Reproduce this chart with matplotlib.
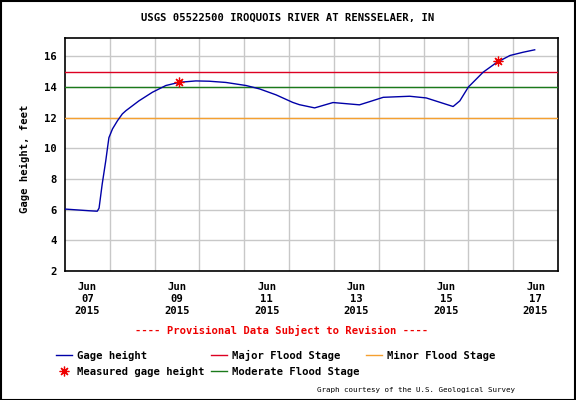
import numpy as np
import matplotlib
matplotlib.use("Agg")
import matplotlib.pyplot as plt

# days since Jun 07 2015 00:00, gage height in feet
days = [0.0, 0.54, 0.72, 0.76, 0.83, 0.91, 0.95, 0.98, 1.06, 1.17, 1.28, 1.36,
        1.65, 1.95, 2.25, 2.55, 2.92, 3.22, 3.59, 4.04, 4.34, 4.71, 5.08, 5.23,
        5.57, 5.98, 6.57, 6.8, 7.1, 7.69, 8.06, 8.66, 8.81, 9.0, 9.33, 9.63,
        9.93, 10.22, 10.48]
height = [6.04, 5.93, 5.9, 6.1, 7.67, 9.2, 10.07, 10.7, 11.27, 11.8, 12.25, 12.46,
          13.1, 13.66, 14.1, 14.31, 14.4, 14.38, 14.3, 14.1, 13.88, 13.49, 13.0, 12.85,
          12.64, 12.99, 12.84, 13.05, 13.33, 13.4, 13.29, 12.73, 13.1, 14.0, 14.97, 15.6,
          16.06, 16.27, 16.43]

meas_days = [2.55, 9.66]
meas_height = [14.31, 15.69]

major_stage = 15
moderate_stage = 14
minor_stage = 12

tick_days = [0.5, 2.5, 4.5, 6.5, 8.5, 10.5]
tick_labels = ["Jun\n07\n2015", "Jun\n09\n2015", "Jun\n11\n2015",
               "Jun\n13\n2015", "Jun\n15\n2015", "Jun\n17\n2015"]

mono = "DejaVu Sans Mono"
fs = 7.6

fig = plt.figure(figsize=(5.76, 4.0), dpi=100)
ax = fig.add_axes((65 / 576, 1 - 271 / 400, 493 / 576, 233 / 400))

ax.plot(days, height, color="#0000a8", lw=1.0, label="Gage height", zorder=4)
ax.plot(meas_days, meas_height, ls="none", marker=(8, 2, 0), ms=7, mew=0.9,
        color="#ee0000", label="Measured gage height", zorder=5)
ax.axhline(major_stage, color="#dd0022", lw=1.0, label="Major Flood Stage", zorder=3)
ax.axhline(moderate_stage, color="#1a7a1a", lw=1.0, label="Moderate Flood Stage", zorder=3)
ax.axhline(minor_stage, color="#f5a030", lw=1.0, label="Minor Flood Stage", zorder=3)

ax.set_xlim(0, 11)
ax.set_ylim(2, 17.2)
ax.set_yticks(np.arange(2, 17, 2))
ax.set_xticks(tick_days, tick_labels)
ax.set_xticks(np.arange(1, 11), minor=True)
ax.grid(which="minor", axis="x", color="#c8c8c8", lw=1.0)
ax.grid(which="major", axis="y", color="#c8c8c8", lw=1.0)
ax.tick_params(which="both", length=0)
ax.tick_params(axis="y", pad=6)
ax.tick_params(axis="x", pad=8)
for lab in ax.get_xticklabels() + ax.get_yticklabels():
    lab.set_family(mono)
    lab.set_fontweight("bold")
    lab.set_fontsize(fs)
for lab in ax.get_xticklabels():
    lab.set_linespacing(1.25)
for sp in ax.spines.values():
    sp.set_linewidth(1.2)

ax.set_ylabel("Gage height, feet", family=mono, fontweight="bold", fontsize=fs)
ax.yaxis.set_label_coords(-0.071, 0.48)

fig.text(0.5, 1 - 18 / 400, "USGS 05522500 IROQUOIS RIVER AT RENSSELAER, IN",
         family=mono, fontweight="bold", fontsize=fs, ha="center", va="center")
fig.text(282 / 576, 1 - 330 / 400, "---- Provisional Data Subject to Revision ----",
         family=mono, fontweight="bold", fontsize=fs, color="#ee0000",
         ha="center", va="center")
fig.text(515 / 576, 1 - 390 / 400, "Graph courtesy of the U.S. Geological Survey",
         family=mono, fontsize=5.4, ha="right", va="center")

h, l = ax.get_legend_handles_labels()
leg = fig.legend(h, l, ncol=3,
                 loc="upper left", bbox_to_anchor=(56 / 576, 1 - 350 / 400),
                 frameon=False, prop={"family": mono, "weight": "bold", "size": fs},
                 handlelength=1.55, handletextpad=0.45, columnspacing=0.6,
                 labelspacing=0.55, borderpad=0, borderaxespad=0)

fig.add_artist(plt.Rectangle((0.001, 0.001), 0.997, 0.997, transform=fig.transFigure,
                             fill=False, lw=1.5, ec="black"))

fig.savefig("out.png", dpi=100)
